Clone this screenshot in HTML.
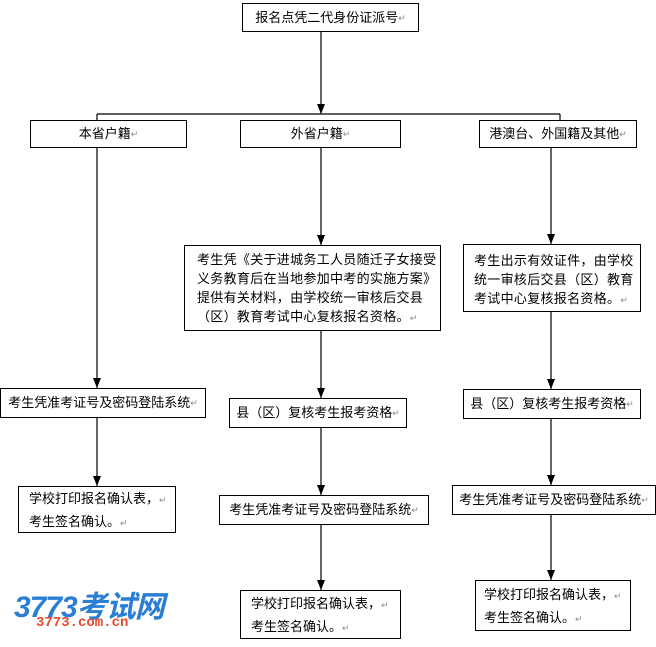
<!DOCTYPE html>
<html><head><meta charset="utf-8"><style>
body{margin:0;width:656px;height:647px;background:#fff;position:relative;overflow:hidden;font-family:"Liberation Sans","Noto Sans CJK SC","WenQuanYi Zen Hei",sans-serif;color:#000}
.b{position:absolute;border:1px solid #000;box-sizing:border-box;background:#fff;font-size:13px;line-height:22px;white-space:nowrap}
.c{display:flex;align-items:center;justify-content:center}
.m{color:#888;font-size:9px}
svg{position:absolute;left:0;top:0}
</style></head><body>
<svg width="656" height="647">
<g stroke="#000" stroke-width="1.2" fill="none">
<line x1="321" y1="31" x2="321" y2="114"/>
<line x1="97" y1="114" x2="560" y2="114"/>
<line x1="97" y1="114" x2="97" y2="120"/>
<line x1="560" y1="114" x2="560" y2="120"/>
<line x1="97" y1="147" x2="97" y2="388"/>
<line x1="97" y1="417" x2="97" y2="486"/>
<line x1="321" y1="147" x2="321" y2="245"/>
<line x1="321" y1="330" x2="321" y2="398"/>
<line x1="321" y1="428" x2="321" y2="495"/>
<line x1="321" y1="524" x2="321" y2="590"/>
<line x1="551" y1="147" x2="551" y2="244"/>
<line x1="551" y1="311" x2="551" y2="389"/>
<line x1="551" y1="418" x2="551" y2="485"/>
<line x1="551" y1="514" x2="551" y2="580"/>
</g>
<g fill="#000">
<polygon points="317,104 325,104 321,114"/>
<polygon points="93,378 101,378 97,388"/>
<polygon points="93,476 101,476 97,486"/>
<polygon points="317,235 325,235 321,245"/>
<polygon points="317,388 325,388 321,398"/>
<polygon points="317,485 325,485 321,495"/>
<polygon points="317,580 325,580 321,590"/>
<polygon points="547,234 555,234 551,244"/>
<polygon points="547,379 555,379 551,389"/>
<polygon points="547,475 555,475 551,485"/>
<polygon points="547,570 555,570 551,580"/>
</g>
</svg>
<div class="b c" style="left:242px;top:3px;width:177px;height:29px">报名点凭二代身份证派号<span class="m">↵</span></div>
<div class="b c" style="left:30px;top:120px;width:157px;height:28px">本省户籍<span class="m">↵</span></div>
<div class="b c" style="left:240px;top:120px;width:161px;height:28px">外省户籍<span class="m">↵</span></div>
<div class="b c" style="left:479px;top:120px;width:158px;height:28px">港澳台、外国籍及其他<span class="m">↵</span></div>
<div class="b" style="left:184px;top:245px;width:257px;height:86px;padding:4px 0 0 12px;line-height:19px;letter-spacing:0.3px">考生凭《关于进城务工人员随迁子女接受<br>义务教育后在当地参加中考的实施方案》<br>提供有关材料，由学校统一审核后交县<br>（区）教育考试中心复核报名资格。<span class="m">↵</span></div>
<div class="b" style="left:463px;top:244px;width:178px;height:68px;padding:6px 0 0 10px;line-height:19px;letter-spacing:0.3px">考生出示有效证件，由学校<br>统一审核后交县（区）教育<br>考试中心复核报名资格。<span class="m">↵</span></div>
<div class="b c" style="left:0px;top:388px;width:206px;height:30px">考生凭准考证号及密码登陆系统<span class="m">↵</span></div>
<div class="b c" style="left:229px;top:398px;width:178px;height:30px">县（区）复核考生报考资格<span class="m">↵</span></div>
<div class="b c" style="left:463px;top:389px;width:178px;height:30px">县（区）复核考生报考资格<span class="m">↵</span></div>
<div class="b" style="left:18px;top:486px;width:158px;height:47px;padding:1px 10px;line-height:21px">学校打印报名确认表，<span class="m">↵</span><br>考生签名确认。<span class="m">↵</span></div>
<div class="b c" style="left:219px;top:495px;width:210px;height:30px">考生凭准考证号及密码登陆系统<span class="m">↵</span></div>
<div class="b c" style="left:452px;top:485px;width:204px;height:30px">考生凭准考证号及密码登陆系统<span class="m">↵</span></div>
<div class="b" style="left:240px;top:590px;width:161px;height:49px;padding:2px 10px;line-height:21px">学校打印报名确认表，<span class="m">↵</span><br>考生签名确认。<span class="m">↵</span></div>
<div class="b" style="left:475px;top:580px;width:156px;height:51px;padding:3px 8px;line-height:21px">学校打印报名确认表，<span class="m">↵</span><br>考生签名确认。<span class="m">↵</span></div>
<div style="position:absolute;left:14px;top:582px;font:italic bold 30px 'Liberation Sans','Noto Sans CJK SC',sans-serif;color:#2a7fd4;letter-spacing:-1px">3773考试网</div>
<div style="position:absolute;left:36px;top:615px;font:bold 14px 'Liberation Mono',monospace;color:#e8492c">3773.com.cn</div>
</body></html>
